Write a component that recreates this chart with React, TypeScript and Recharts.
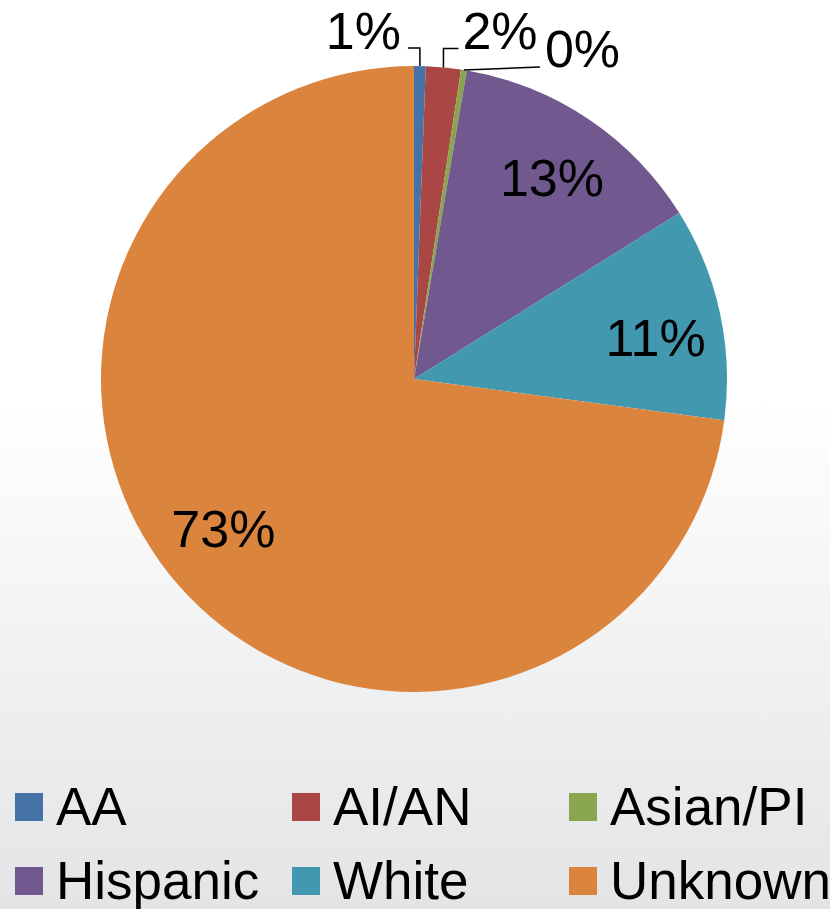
import { Legend, Pie, PieChart, Cell } from "recharts";

const categories = ["AA", "AI/AN", "Asian/PI", "Hispanic", "White", "Unknown"];
const shares = [0.6, 1.8, 0.3, 13.4, 11.0, 72.9];
const percentLabels = ["1%", "2%", "0%", "13%", "11%", "73%"];
const colors = ["#4572a7", "#aa4643", "#89a54e", "#71588f", "#4198af", "#db843d"];

const data = categories.map((name, i) => ({ name, value: shares[i] }));

const FONT = "Arial, 'Liberation Sans', Helvetica, sans-serif";
const RAD = Math.PI / 180;

// small slices get leader lines: vertical rise then a short horizontal run
const leaders: Record<number, { up: number; run: number; anchor: "start" | "end" }> = {
  0: { up: 18, run: -12, anchor: "end" },
  1: { up: 19, run: 15, anchor: "start" },
};

// inner label nudges so they sit where the original placed them
const nudges: Record<number, [number, number]> = {
  3: [2, 2],
  4: [3, 11],
  5: [-7, -11],
};

type LabelProps = {
  cx: number;
  cy: number;
  midAngle: number;
  outerRadius: number;
  index: number;
};

function SliceLabel({ cx, cy, midAngle, outerRadius, index }: LabelProps) {
  const text = percentLabels[index];
  const sin = Math.sin(-midAngle * RAD);
  const cos = Math.cos(-midAngle * RAD);

  if (index < 3) {
    const x0 = cx + outerRadius * cos;
    const y0 = cy + outerRadius * sin;
    if (index === 2) {
      const x1 = x0 + 76;
      const y1 = y0 - 3;
      return (
        <g>
          <polyline points={`${x0},${y0} ${x1},${y1}`} fill="none" stroke="#000" strokeWidth={1.5} />
          <text x={x1 + 5} y={y1 + 0} fontSize={52} fontFamily={FONT} fill="#000">
            {text}
          </text>
        </g>
      );
    }
    const l = leaders[index];
    const y1 = y0 - l.up;
    const x2 = x0 + l.run;
    return (
      <g>
        <polyline
          points={`${x0},${y0} ${x0},${y1} ${x2},${y1}`}
          fill="none"
          stroke="#000"
          strokeWidth={1.5}
        />
        <text
          x={x2 + (l.anchor === "end" ? -7 : 4)}
          y={y1 + 1}
          textAnchor={l.anchor}
          fontSize={52}
          fontFamily={FONT}
          fill="#000"
        >
          {text}
        </text>
      </g>
    );
  }

  const r = outerRadius * 0.78;
  const [nx, ny] = nudges[index] ?? [0, 0];
  const x = cx + r * cos + nx;
  const y = cy + r * sin + ny;
  return (
    <text
      x={x}
      y={y}
      textAnchor="middle"
      dominantBaseline="central"
      fontSize={52}
      fontFamily={FONT}
      fill="#000"
    >
      {text}
    </text>
  );
}

function LegendGrid() {
  return (
    <div
      style={{
        display: "grid",
        gridTemplateColumns: "277px 277px 276px",
        rowGap: 22,
        fontFamily: FONT,
        fontSize: 53,
        color: "#000",
      }}
    >
      {categories.map((name, i) => (
        <div key={name} style={{ display: "flex", alignItems: "center", height: 52, paddingLeft: 15 }}>
          <span
            style={{
              width: 28,
              height: 28,
              background: colors[i],
              marginRight: 13,
              flexShrink: 0,
            }}
          />
          <span style={{ lineHeight: "52px", whiteSpace: "nowrap" }}>{name}</span>
        </div>
      ))}
    </div>
  );
}

export default function App() {
  return (
    <div
      style={{
        position: "fixed",
        top: 0,
        left: 0,
        width: 830,
        height: 909,
        overflow: "hidden",
        background: "linear-gradient(to bottom, #ffffff 0%, #ffffff 44%, #e3e4e6 100%)",
      }}
    >
      <PieChart width={830} height={909} margin={{ top: 0, right: 0, bottom: 0, left: 0 }}>
        <Pie
          data={data}
          dataKey="value"
          nameKey="name"
          cx={414}
          cy={379}
          outerRadius={313}
          startAngle={90}
          endAngle={-270}
          stroke="none"
          label={SliceLabel as any}
          labelLine={false}
          isAnimationActive={false}
        >
          {data.map((d, i) => (
            <Cell key={d.name} fill={colors[i]} />
          ))}
        </Pie>
        <Legend
          content={<LegendGrid />}
          wrapperStyle={{ position: "absolute", top: 781, left: 0, width: 830 }}
        />
      </PieChart>
    </div>
  );
}
